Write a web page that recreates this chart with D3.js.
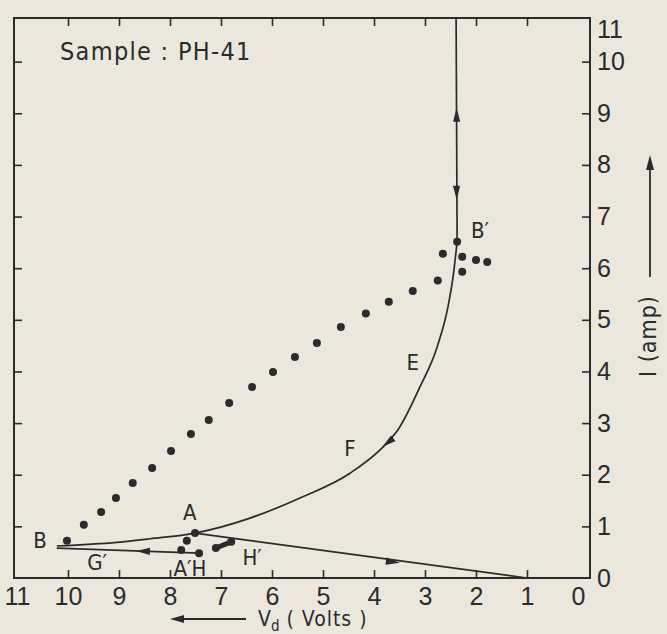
<!DOCTYPE html>
<html>
<head>
<meta charset="utf-8">
<script src="https://cdn.jsdelivr.net/npm/d3@7"></script>
<style>
  body { margin: 0; background: #ebe7dc; }
  svg { display: block; font-family: "DejaVu Sans Condensed", "DejaVu Sans", sans-serif; }
</style>
</head>
<body>
<div id="chart"></div>
<script>
// I - Vd loop for sample PH-41

var xTickValues = [0, 1, 2, 3, 4, 5, 6, 7, 8, 9, 10, 11];
var yTickValues = [0, 1, 2, 3, 4, 5, 6, 7, 8, 9, 10, 11];
var innerTicks = [1, 2, 3, 4, 5, 6, 7, 8, 9, 10];

// measured points, upper branch [Vd, I]
var upperDots = [
  [10.02, 0.72], [9.69, 1.03], [9.35, 1.28], [9.06, 1.55], [8.73, 1.84],
  [8.35, 2.13], [7.98, 2.46], [7.59, 2.79], [7.24, 3.06], [6.84, 3.39],
  [6.39, 3.70], [5.98, 3.99], [5.55, 4.28], [5.12, 4.55], [4.65, 4.86],
  [4.16, 5.12], [3.71, 5.35], [3.24, 5.56], [2.75, 5.76], [2.65, 6.28],
  [2.37, 6.51], [2.27, 6.22], [2.00, 6.16], [1.78, 6.12], [2.27, 5.93]
];
// measured points near A / H
var lowerDots = [
  [7.51, 0.87], [7.67, 0.72], [7.78, 0.54], [7.43, 0.48], [7.10, 0.58], [6.80, 0.70]
];

// B -> A -> F -> E -> B'
var curveBA = [
  [10.22, 0.62], [9.04, 0.69], [8.39, 0.76], [7.51, 0.87], [6.43, 1.16],
  [5.45, 1.55], [4.47, 2.03], [3.82, 2.54], [3.53, 2.87], [3.10, 3.70],
  [2.76, 4.48], [2.55, 5.25], [2.45, 5.83], [2.37, 6.51]
];
var riseB = [[2.37, 6.51], [2.39, 10.85]];
var lineA1 = [[7.51, 0.87], [1.0, 0.0]];
var lineHB = [[7.43, 0.48], [10.22, 0.58]];
var lineHH = [[7.10, 0.58], [6.80, 0.70]];

// arrow heads: [Vd, I, toward Vd, toward I]
var arrowHeads = [
  [2.38, 8.97, 2.39, 11],
  [2.38, 7.46, 2.37, 6.5],
  [3.73, 2.62, 4.47, 2.03],
  [3.63, 0.31, 1.0, 0.0],
  [8.53, 0.52, 10.22, 0.58]
];

var pointLabels = [
  ["B", 10.55, 0.74], ["G\u2032", 9.43, 0.31], ["A\u2032H", 7.61, 0.19],
  ["H\u2032", 6.39, 0.41], ["A", 7.61, 1.28], ["F", 4.47, 2.52],
  ["E", 3.24, 4.19], ["B\u2032", 1.92, 6.74]
];

var width = 667, height = 634;
var ink = "#2b2b2b";

var svg = d3.select("#chart").append("svg")
    .attr("width", width)
    .attr("height", height);

var x = d3.scaleLinear().domain([11, 0]).range([17, 578]);
var y = d3.scaleLinear().domain([0, 11]).range([578, 10]);

var frame = {left: 14, right: 590, top: 18, bottom: 578};

// frame
svg.append("rect")
    .attr("x", frame.left)
    .attr("y", frame.top)
    .attr("width", frame.right - frame.left)
    .attr("height", frame.bottom - frame.top)
    .attr("fill", "none")
    .attr("stroke", ink)
    .attr("stroke-width", 2);

// bottom axis
var gx = svg.append("g")
    .attr("transform", "translate(0," + frame.bottom + ")")
    .call(d3.axisBottom(x).tickValues(xTickValues).tickFormat(d3.format("d"))
        .tickSize(-8).tickPadding(9));
gx.select(".domain").remove();
gx.selectAll(".tick").filter(d => d == 0 || d == 11).select("line").remove();
gx.selectAll("text").attr("font-size", 25).attr("fill", ink).attr("font-family", null);
gx.selectAll("line").attr("stroke", ink).attr("stroke-width", 1.6);

// right axis
var gy = svg.append("g")
    .attr("transform", "translate(" + frame.right + ",0)")
    .call(d3.axisRight(y).tickValues(yTickValues).tickFormat(d3.format("d"))
        .tickSize(-8).tickPadding(7));
gy.select(".domain").remove();
gy.selectAll(".tick").filter(d => d == 0 || d == 11).select("line").remove();
gy.selectAll(".tick").filter(d => d == 11).select("text").attr("dy", "1.1em");
gy.selectAll("text").attr("font-size", 25).attr("fill", ink).attr("font-family", null);
gy.selectAll("line").attr("stroke", ink).attr("stroke-width", 1.6);

// inward ticks on top and left edges
svg.append("g").call(d3.axisTop(x).tickValues(innerTicks).tickSize(-8).tickFormat(""))
    .attr("transform", "translate(0," + frame.top + ")")
    .call(g => g.select(".domain").remove())
    .selectAll("line").attr("stroke", ink).attr("stroke-width", 1.6);
svg.append("g").call(d3.axisLeft(y).tickValues(innerTicks).tickSize(-8).tickFormat(""))
    .attr("transform", "translate(" + frame.left + ",0)")
    .call(g => g.select(".domain").remove())
    .selectAll("line").attr("stroke", ink).attr("stroke-width", 1.6);

// curves
var line = d3.line().x(d => x(d[0])).y(d => y(d[1]));
var smooth = d3.line().x(d => x(d[0])).y(d => y(d[1])).curve(d3.curveMonotoneX);

svg.append("path").attr("d", smooth(curveBA))
    .attr("fill", "none").attr("stroke", ink).attr("stroke-width", 1.7);
[riseB, lineA1, lineHB].forEach(function (pts) {
  svg.append("path").attr("d", line(pts))
      .attr("fill", "none").attr("stroke", ink).attr("stroke-width", 1.7);
});
svg.append("path").attr("d", line(lineHH))
    .attr("fill", "none").attr("stroke", ink).attr("stroke-width", 5)
    .attr("stroke-linecap", "round");

// arrow heads
svg.selectAll(".arrow")
  .data(arrowHeads)
  .enter()
  .append("path")
    .attr("class", "arrow")
    .attr("d", "M7,0 L-7,-3.6 L-7,3.6 Z")
    .attr("fill", ink)
    .attr("transform", function (d) {
      var a = Math.atan2(y(d[3]) - y(d[1]), x(d[2]) - x(d[0])) * 180 / Math.PI;
      return "translate(" + x(d[0]) + "," + y(d[1]) + ") rotate(" + a + ")";
    });

// dots
svg.selectAll(".dot")
  .data(upperDots.concat(lowerDots))
  .enter()
  .append("circle")
    .attr("class", "dot")
    .attr("cx", d => x(d[0]))
    .attr("cy", d => y(d[1]))
    .attr("r", 4)
    .attr("fill", ink);

// point labels
svg.selectAll(".plabel")
  .data(pointLabels)
  .enter()
  .append("text")
    .attr("class", "plabel")
    .attr("x", d => x(d[1]))
    .attr("y", d => y(d[2]))
    .attr("dy", "0.36em")
    .attr("text-anchor", "middle")
    .attr("font-size", 22)
    .attr("fill", ink)
    .text(d => d[0]);

// title
svg.append("text")
    .attr("x", 60)
    .attr("y", 60)
    .attr("font-size", 25)
    .attr("letter-spacing", 1.3)
    .attr("fill", ink)
    .text("Sample : PH-41");

// x axis title with arrow
svg.append("line")
    .attr("x1", 246).attr("x2", 178)
    .attr("y1", 619).attr("y2", 619)
    .attr("stroke", ink).attr("stroke-width", 1.8);
svg.append("path")
    .attr("d", "M170,619 L184,615 L184,623 Z")
    .attr("fill", ink);
var xt = svg.append("text")
    .attr("x", 258)
    .attr("y", 626)
    .attr("font-size", 21)
    .attr("fill", ink);
xt.append("tspan").text("V");
xt.append("tspan").attr("font-size", 15).attr("dy", 5).text("d");
xt.append("tspan").attr("dy", -5).attr("letter-spacing", 1).text(" ( Volts )");

// y axis title with arrow
svg.append("text")
    .attr("transform", "translate(656,336) rotate(-90)")
    .attr("text-anchor", "middle")
    .attr("font-size", 23)
    .attr("letter-spacing", 1)
    .attr("fill", ink)
    .text("I (amp)");
svg.append("line")
    .attr("x1", 650).attr("x2", 650)
    .attr("y1", 277).attr("y2", 166)
    .attr("stroke", ink).attr("stroke-width", 1.8);
svg.append("path")
    .attr("d", "M650,155 L646,170 L654,170 Z")
    .attr("fill", ink);
</script>
</body>
</html>
